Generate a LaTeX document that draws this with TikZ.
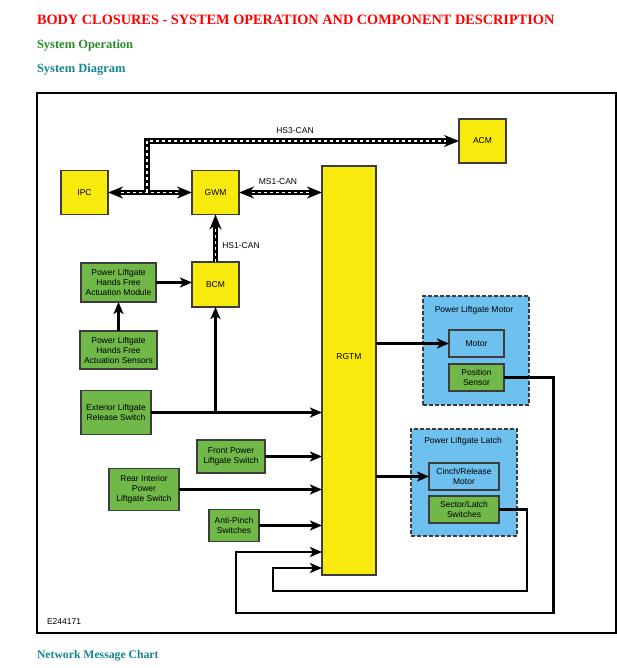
\documentclass[tikz,border=0pt]{standalone}
\usepackage{fontspec}
\setmainfont{Liberation Serif}
\setsansfont{Liberation Sans}
\usetikzlibrary{arrows.meta}
\definecolor{ylw}{RGB}{248,234,12}
\definecolor{grn}{RGB}{112,184,72}
\definecolor{blu}{RGB}{110,192,238}
\definecolor{hdred}{RGB}{255,0,0}
\definecolor{hdgreen}{RGB}{40,140,40}
\definecolor{hdteal}{RGB}{20,135,140}
\definecolor{bord}{RGB}{60,60,60}
\newcommand{\dgfont}{\sffamily\fontsize{8.5}{10}\selectfont}
\begin{document}
\begin{tikzpicture}[x=1pt,y=-1pt,
  every node/.style={inner sep=0pt, outer sep=0pt},
  modbox/.style={draw=bord, line width=1.2pt, fill=ylw, align=center, font=\dgfont},
  swbox/.style={draw=bord, line width=1.2pt, fill=grn, align=center, font=\dgfont},
  subbox/.style={draw=bord, line width=1.2pt, fill=blu, align=center, font=\dgfont},
  grpbox/.style={draw=bord, line width=1.4pt, fill=blu, dash pattern=on 4pt off 2pt},
  lbl/.style={font=\dgfont},
  wtip/.tip={Stealth[length=12pt,width=10pt,inset=3pt]},
  ctip/.tip={Stealth[length=15pt,width=12pt,inset=5pt]},
  wire/.style={line width=2.3pt, -wtip},
  canbase/.style={line width=5.5pt, black},
  candash/.style={line width=1.8pt, white, dash pattern=on 3pt off 3pt},
  head/.style={anchor=base west, font=\bfseries\fontsize{12.5}{14}\selectfont}
]
\useasboundingbox (0,0) rectangle (617,668);

% headings
\node[head, text=hdred, font=\bfseries\fontsize{14.3}{16}\selectfont] (t1) at (37,25) {BODY CLOSURES - SYSTEM OPERATION AND COMPONENT DESCRIPTION};
\node[head, text=hdgreen] (t2) at (37,49) {System Operation};
\node[head, text=hdteal] (t3) at (37,73) {System Diagram};
\node[head, text=hdteal, font=\bfseries\fontsize{11.7}{14}\selectfont] (t4) at (37,658) {Network Message Chart};

% frame
\draw[line width=2.3pt] (37,93) rectangle (616,633);

% groups
\node[grpbox, minimum width=106pt, minimum height=109pt] (gmot) at (476,350.5) {};
\node[lbl] (gmott) at (474,310) {Power Liftgate Motor};
\node[grpbox, minimum width=106pt, minimum height=107pt] (glat) at (464,482.5) {};
\node[lbl] (glatt) at (463,441) {Power Liftgate Latch};

% modules
\node[modbox, minimum width=47pt, minimum height=44pt] (ipc) at (84.5,192.5) {IPC};
\node[modbox, minimum width=47pt, minimum height=44pt] (gwm) at (215.5,192.5) {GWM};
\node[modbox, minimum width=47pt, minimum height=45pt] (bcm) at (215.5,284.5) {BCM};
\node[modbox, minimum width=47pt, minimum height=44pt] (acm) at (482.5,141) {ACM};
\node[modbox, minimum width=54pt, minimum height=409pt] (rgtm) at (349,370.5) {};
\node[lbl] (rgtmt) at (349,357) {RGTM};

% switches
\node[swbox, minimum width=75pt, minimum height=39pt] (mod) at (118.5,282.5) {Power Liftgate\\Hands Free\\Actuation Module};
\node[swbox, minimum width=77pt, minimum height=38pt] (sens) at (118.5,350) {Power Liftgate\\Hands Free\\Actuation Sensors};
\node[swbox, minimum width=70pt, minimum height=44pt] (ext) at (116,412.5) {Exterior Liftgate\\Release Switch};
\node[swbox, minimum width=68pt, minimum height=33pt] (front) at (231,456.5) {Front Power\\Liftgate Switch};
\node[swbox, minimum width=70pt, minimum height=42pt] (rear) at (144,489.5) {Rear Interior\\Power\\Liftgate Switch};
\node[swbox, minimum width=50pt, minimum height=32pt] (anti) at (234,525.5) {Anti-Pinch\\Switches};

% sub components
\node[subbox, minimum width=55pt, minimum height=27pt] (motor) at (476.5,343.5) {Motor};
\node[swbox, minimum width=55pt, minimum height=27pt] (pos) at (476.5,377.5) {Position\\Sensor};
\node[subbox, minimum width=70pt, minimum height=27pt] (cinch) at (464,476.5) {Cinch/Release\\Motor};
\node[swbox, minimum width=70pt, minimum height=27pt] (sec) at (464,509.5) {Sector/Latch\\Switches};

% CAN networks
\coordinate (j) at (147,192.5);
\coordinate (k) at (147,141);
\draw[canbase, ctip-ctip] (ipc.east) -- (gwm.west);
\draw[canbase, -ctip] (j) -- (k) -- (acm.west);
\draw[canbase, ctip-ctip] (gwm.east) -- (gwm.east -| rgtm.west);
\draw[canbase, -ctip] (bcm.north) -- (gwm.south);
\draw[candash, shorten <=13pt, shorten >=13pt] (ipc.east) -- (gwm.west);
\draw[candash, shorten >=13pt] (j) -- (k) -- (acm.west);
\draw[candash, shorten <=13pt, shorten >=13pt] (gwm.east) -- (gwm.east -| rgtm.west);
\draw[candash, shorten >=13pt] (bcm.north) -- (gwm.south);
\node[lbl] (hs3) at (295,131) {HS3-CAN};
\node[lbl] (ms1) at (278,182) {MS1-CAN};
\node[lbl] (hs1) at (241,246) {HS1-CAN};

% wires
\draw[wire] (mod.east) -- (mod.east -| bcm.west);
\draw[wire] (sens.north) -- (mod.south);
\draw[wire] (ext.east) -- (ext.east -| rgtm.west);
\coordinate (eb) at (ext.east -| bcm.south);
\draw[wire] (eb) -- (bcm.south);
\draw[wire] (front.east) -- (front.east -| rgtm.west);
\draw[wire] (rear.east) -- (rear.east -| rgtm.west);
\draw[wire] (anti.east) -- (anti.east -| rgtm.west);
\draw[wire] (rgtm.east |- motor.west) -- (motor.west);
\draw[wire] (rgtm.east |- cinch.west) -- (cinch.west);
\coordinate (p1) at (553.5,613);
\coordinate (p2) at (236,613);
\coordinate (p3) at (236,552);
\draw[wire] (pos.east) -| (p1) -- (p2) -- (p3) -- (p3 -| rgtm.west);
\coordinate (s1) at (527,591);
\coordinate (s2) at (273,591);
\coordinate (s3) at (273,568);
\draw[wire] (sec.east) -| (s1) -- (s2) -- (s3) -- (s3 -| rgtm.west);

\node[lbl, anchor=west] (eid) at (47,621.5) {E244171};
\end{tikzpicture}
\end{document}
